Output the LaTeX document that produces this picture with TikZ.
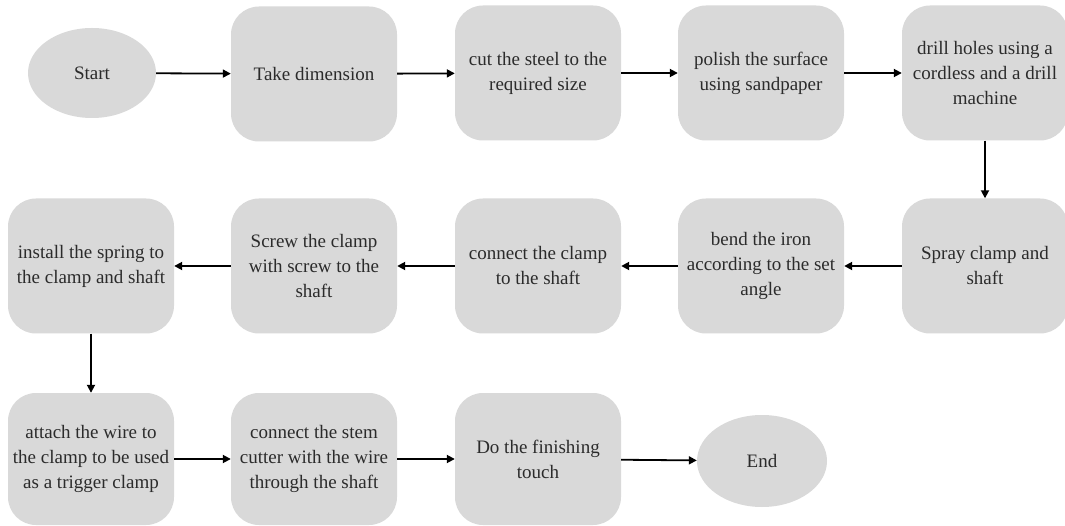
\documentclass[tikz,border=0pt]{standalone}
\usepackage{fontspec}
\setmainfont{Liberation Serif}
\usetikzlibrary{arrows.meta,shapes.geometric}
\definecolor{boxfill}{HTML}{D9D9D9}
\definecolor{txt}{HTML}{2B2B2B}
\tikzset{
  stepbox/.style={rectangle, rounded corners=28pt, fill=boxfill, draw=none,
    minimum width=166pt, minimum height=135pt, align=center,
    inner sep=0pt, text=txt, font=\fontsize{19}{25}\selectfont},
  terminal/.style={ellipse, fill=boxfill, draw=none, minimum width=128pt,
    minimum height=90pt, inner sep=0pt, text=txt, font=\fontsize{19}{25}\selectfont},
  flow/.style={-{Triangle[length=8pt,width=8pt]}, line width=1.8pt, black}
}
\begin{document}
\begin{tikzpicture}[x=1pt,y=-1pt]
\useasboundingbox (0,0) rectangle (1065,526);
\fill[white] (0,0) rectangle (1065,526);
% row 1
\node[terminal] (start) at (92,73) {Start};
\node[stepbox] (take) at (314,74) {Take dimension};
\node[stepbox] (cut) at (538,73) {cut the steel to the\\required size};
\node[stepbox] (polish) at (761,73) {polish the surface\\using sandpaper};
\node[stepbox] (drill) at (985,73) {drill holes using a\\cordless and a drill\\machine};
% row 2
\node[stepbox] (spray) at (985,266) {Spray clamp and\\shaft};
\node[stepbox] (bend) at (761,266) {bend the iron\\according to the set\\angle};
\node[stepbox] (connect) at (538,266) {connect the clamp\\to the shaft};
\node[stepbox] (screw) at (314,266) {Screw the clamp\\with screw to the\\shaft};
\node[stepbox] (install) at (91,266) {install the spring to\\the clamp and shaft};
% row 3
\node[stepbox, minimum height=132pt] (attach) at (91,459) {attach the wire to\\the clamp to be used\\as a trigger clamp};
\node[stepbox, minimum height=132pt] (stem) at (314,459) {connect the stem\\cutter with the wire\\through the shaft};
\node[stepbox, minimum height=132pt] (finish) at (538,459) {Do the finishing\\touch};
\node[terminal, minimum width=130pt, minimum height=92pt] (end) at (762,461) {End};
% connectors
\draw[flow] (start) -- (take);
\draw[flow] (take) -- (cut);
\draw[flow] (cut) -- (polish);
\draw[flow] (polish) -- (drill);
\draw[flow] (drill) -- (spray);
\draw[flow] (spray) -- (bend);
\draw[flow] (bend) -- (connect);
\draw[flow] (connect) -- (screw);
\draw[flow] (screw) -- (install);
\draw[flow] (install) -- (attach);
\draw[flow] (attach) -- (stem);
\draw[flow] (stem) -- (finish);
\draw[flow] (finish) -- (end);
\end{tikzpicture}
\end{document}
